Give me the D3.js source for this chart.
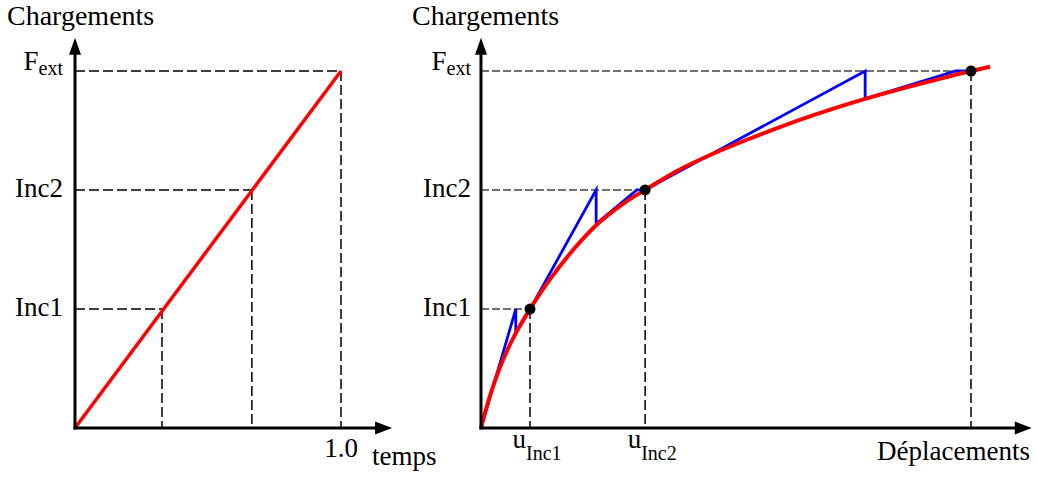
<!DOCTYPE html>
<html><head><meta charset="utf-8">
<script src="https://cdn.jsdelivr.net/npm/d3@7"></script>
<style>
body{margin:0;background:#fff}
svg{display:block}
text{font-family:"Liberation Serif","Times New Roman",serif;fill:#000}
</style>
</head><body>
<svg id="c" width="1037" height="478"></svg>
<script>
// ---------- data ----------
const loadLabels = ["Inc1", "Inc2", "Fext"];
const loadLevels = [0.333, 0.667, 1.0];
// left panel: time at each load level (linear loading)
const timeAtLevel = [0.327, 0.665, 1.0];
const timeTicks = ["1.0"];
const loadLineT = [0, 1.0];
const loadLineF = [0, 1.0];
// right panel: equilibrium displacements
const dispAtLevel = [0.1, 0.335, 1.0];
const dispTickLabels = ["Inc1", "Inc2"];
// equilibrium (red) curve
const curveU = [0, 0.01, 0.025, 0.045, 0.07, 0.1, 0.14, 0.19, 0.24, 0.29, 0.335, 0.4, 0.47, 0.54, 0.61, 0.68, 0.75, 0.82, 0.89, 0.95, 1.0, 1.039];
const curveF = [0, 0.052, 0.118, 0.191, 0.263, 0.333, 0.415, 0.502, 0.574, 0.628, 0.667, 0.72, 0.766, 0.806, 0.843, 0.877, 0.908, 0.936, 0.962, 0.983, 1.0, 1.012];
// Newton iterations (blue)
const iterU = [0, 0.071, 0.071, 0.1, 0.235, 0.235, 0.318, 0.335, 0.784, 0.784, 0.969, 1.0];
const iterF = [0, 0.333, 0.266, 0.333, 0.667, 0.572, 0.667, 0.667, 1.0, 0.922, 1.0, 1.0];

// ---------- drawing ----------
const svg = d3.select("#c");
const dashPat = "10,4";

function arrowAxes(g, x, y, xMax, yMax) {
  const x0 = x(0), y0 = y(0);
  g.append("line").attr("x1", x0).attr("y1", y0 + 1.5).attr("x2", x0).attr("y2", y(yMax) + 10)
    .attr("stroke", "#000").attr("stroke-width", 3);
  g.append("line").attr("x1", x0 - 1.5).attr("y1", y0).attr("x2", x(xMax) - 10).attr("y2", y0)
    .attr("stroke", "#000").attr("stroke-width", 3);
  const ty = y(yMax), tx = x(xMax);
  g.append("path").attr("d", `M${x0},${ty} L${x0 - 6},${ty + 17} L${x0 + 6},${ty + 17} Z`).attr("fill", "#000");
  g.append("path").attr("d", `M${tx},${y0} L${tx - 17},${y0 - 6.5} L${tx - 17},${y0 + 6.5} Z`).attr("fill", "#000");
}

function levelLabel(g, xEnd, yv, name) {
  if (name === "Fext") {
    const t = g.append("text").attr("x", xEnd).attr("y", yv - 1).attr("text-anchor", "end");
    t.append("tspan").attr("font-size", 27).text("F");
    t.append("tspan").attr("font-size", 20).attr("dy", 5).text("ext");
  } else {
    g.append("text").attr("x", xEnd).attr("y", yv + 7).attr("text-anchor", "end")
      .attr("font-size", 27).text(name);
  }
}

// ----- left panel -----
{
  const x = d3.scaleLinear().domain([0, 1]).range([75, 341]);
  const y = d3.scaleLinear().domain([0, 1]).range([428, 71]);
  const g = svg.append("g");
  loadLevels.forEach((f, i) => {
    const t = timeAtLevel[i];
    g.append("line").attr("x1", x(0)).attr("x2", x(t)).attr("y1", y(f)).attr("y2", y(f))
      .attr("stroke", "#000").attr("stroke-width", 1.5).attr("stroke-dasharray", dashPat);
    g.append("line").attr("x1", x(t)).attr("x2", x(t)).attr("y1", y(f)).attr("y2", y(0))
      .attr("stroke", "#000").attr("stroke-width", 1.5).attr("stroke-dasharray", dashPat);
    levelLabel(g, 63, y(f), loadLabels[i]);
  });
  const line = d3.line().x((d, i) => x(loadLineT[i])).y((d, i) => y(loadLineF[i]));
  g.append("path").datum(loadLineT).attr("d", line).attr("fill", "none")
    .attr("stroke", "#ff0000").attr("stroke-width", 3.5);
  arrowAxes(g, x, y, 1.192, 1.093);
  g.append("text").attr("x", 7).attr("y", 25).attr("font-size", 28).text("Chargements");
  timeTicks.forEach(tl => {
    g.append("text").attr("x", x(+tl)).attr("y", 457).attr("text-anchor", "middle").attr("font-size", 27).text(tl);
  });
  g.append("text").attr("x", 372).attr("y", 465).attr("font-size", 27).text("temps");
}

// ----- right panel -----
{
  const x = d3.scaleLinear().domain([0, 1]).range([481, 971]);
  const y = d3.scaleLinear().domain([0, 1]).range([428, 71]);
  const g = svg.append("g");
  loadLevels.forEach((f, i) => {
    const u = dispAtLevel[i];
    g.append("line").attr("x1", x(0)).attr("x2", x(u)).attr("y1", y(f)).attr("y2", y(f))
      .attr("stroke", "#444").attr("stroke-width", 1.5).attr("stroke-dasharray", "8,3");
    g.append("line").attr("x1", x(u)).attr("x2", x(u)).attr("y1", y(f)).attr("y2", y(0))
      .attr("stroke", "#000").attr("stroke-width", 1.5).attr("stroke-dasharray", dashPat);
    levelLabel(g, 471, y(f), loadLabels[i]);
  });
  const iterLine = d3.line().x((d, i) => x(iterU[i])).y((d, i) => y(iterF[i]));
  g.append("path").datum(iterU).attr("d", iterLine).attr("fill", "none")
    .attr("stroke", "#0000ff").attr("stroke-width", 2.8).attr("stroke-linejoin", "miter");
  const curve = d3.line().x((d, i) => x(curveU[i])).y((d, i) => y(curveF[i])).curve(d3.curveCatmullRom.alpha(0.5));
  g.append("path").datum(curveU).attr("d", curve).attr("fill", "none")
    .attr("stroke", "#ff0000").attr("stroke-width", 4);
  dispAtLevel.forEach((u, i) => {
    g.append("circle").attr("cx", x(u)).attr("cy", y(loadLevels[i])).attr("r", 5.5).attr("fill", "#000");
  });
  arrowAxes(g, x, y, 1.124, 1.093);
  g.append("text").attr("x", 412).attr("y", 25).attr("font-size", 28).text("Chargements");
  dispTickLabels.forEach((name, i) => {
    const t = g.append("text").attr("x", x(dispAtLevel[i]) + 7).attr("y", 448).attr("text-anchor", "middle");
    t.append("tspan").attr("font-size", 27).text("u");
    t.append("tspan").attr("font-size", 20).attr("dy", 12).text(name);
  });
  g.append("text").attr("x", 1030).attr("y", 460).attr("text-anchor", "end").attr("font-size", 27).text("Déplacements");
}
</script>
</body></html>
